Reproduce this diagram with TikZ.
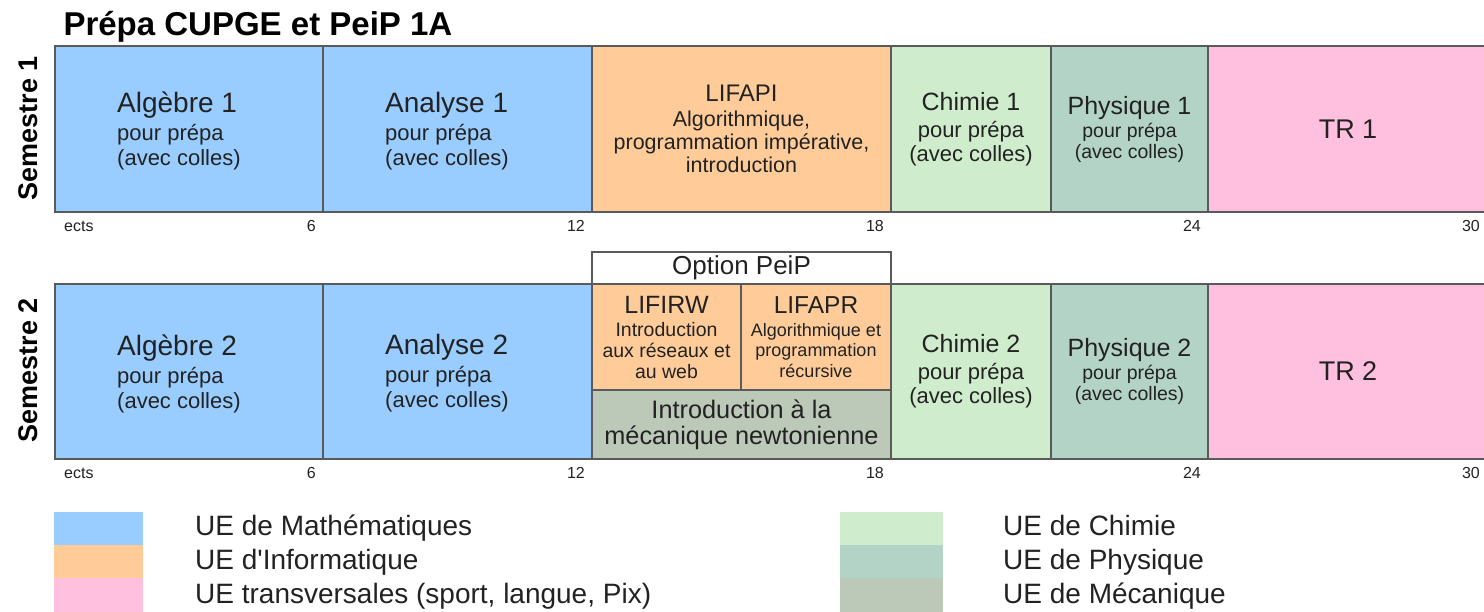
\documentclass[tikz,border=0pt]{standalone}
\usepackage{fontspec}
\setmainfont{Liberation Sans}

\definecolor{maths}{HTML}{99CCFF}
\definecolor{info}{HTML}{FFCC99}
\definecolor{transv}{HTML}{FFBFDF}
\definecolor{chimie}{HTML}{CFEDCC}
\definecolor{physique}{HTML}{B4D3C7}
\definecolor{meca}{HTML}{BCC8B8}
\definecolor{bord}{HTML}{5A5A5A}
\definecolor{texte}{HTML}{222222}

\newcommand{\fs}[2]{\fontsize{#1}{#2}\selectfont}

\tikzset{
  ue/.style={draw=bord, line width=2pt, anchor=north west, inner sep=0pt,
    align=center, text=texte},
  uetxt/.style={anchor=west, align=left, inner sep=0pt, text=texte,
    font=\fs{22}{25}},
  ects/.style={inner sep=0pt, text=texte, font=\fs{16}{18}},
  swatch/.style={anchor=north west, inner sep=0pt, minimum width=89pt,
    minimum height=34pt},
  legende/.style={anchor=base west, inner sep=0pt, text=texte, font=\fs{28}{30}}
}

\begin{document}
\begin{tikzpicture}[x=1pt, y=-1pt]
    \useasboundingbox (0,0) rectangle (1484,611);
    % 标题
    \node[anchor=base west, font=\fs{33}{36}\bfseries] (titre) at (60,35)
      {Prépa CUPGE et PeiP 1A};
    \node[rotate=90, anchor=base, font=\fs{27}{30}\bfseries] (sem1) at (37,128) {Semestre 1};
    \node[rotate=90, anchor=base, font=\fs{27}{30}\bfseries] (sem2) at (37,370) {Semestre 2};

    % 第一学期
    \node[ue, fill=maths, minimum width=268pt, minimum height=166pt] (alg1) at (54,45) {};
    \node[ue, fill=maths, minimum width=269pt, minimum height=166pt] (ana1) at (322,45) {};
    \node[ue, fill=info, minimum width=299pt, minimum height=166pt, font=\fs{21.5}{23}]
      (lifapi) at (591,45)
      {{\fs{24}{26}LIFAPI}\\[2pt] Algorithmique,\\ programmation impérative,\\ introduction};
    \node[ue, fill=chimie, minimum width=160pt, minimum height=166pt, font=\fs{22}{24}]
      (chim1) at (890,45) {{\fs{25}{27}Chimie 1}\\[3pt] pour prépa\\ (avec colles)};
    \node[ue, fill=physique, minimum width=157pt, minimum height=166pt, font=\fs{19.5}{21}]
      (phys1) at (1050,45) {{\fs{25}{27}Physique 1}\\[2pt] pour prépa\\ (avec colles)};
    \node[ue, fill=transv, minimum width=280pt, minimum height=166pt, font=\fs{27}{30}]
      (tr1) at (1207,45) {TR 1};
    \node[uetxt] (alg1txt) at ([xshift=63pt,yshift=-2pt]alg1.west)
      {{\fs{28}{30}Algèbre 1}\\[3pt] pour prépa\\ (avec colles)};
    \node[uetxt] (ana1txt) at ([xshift=63pt,yshift=-2pt]ana1.west)
      {{\fs{28}{30}Analyse 1}\\[3pt] pour prépa\\ (avec colles)};

    % 第二学期
    \node[ue, fill=white, minimum width=299pt, minimum height=32pt, font=\fs{26}{28}]
      (option) at (591,251) {Option PeiP};
    \node[ue, fill=maths, minimum width=268pt, minimum height=175pt] (alg2) at (54,283) {};
    \node[ue, fill=maths, minimum width=269pt, minimum height=175pt] (ana2) at (322,283) {};
    \node[ue, fill=info, minimum width=149pt, minimum height=106pt, font=\fs{19.5}{21}]
      (lifirw) at (591,283)
      {{\fs{25}{27}LIFIRW}\\[2pt] Introduction\\ aux réseaux et\\ au web};
    \node[ue, fill=info, minimum width=150pt, minimum height=106pt, font=\fs{18}{20.5}]
      (lifapr) at (740,283)
      {{\fs{24.5}{27}LIFAPR}\\[2pt] Algorithmique et\\ programmation\\ récursive};
    \node[ue, fill=meca, minimum width=299pt, minimum height=69pt, font=\fs{25.3}{26}]
      (meca) at (591,389) {Introduction à la\\ mécanique newtonienne};
    \node[ue, fill=chimie, minimum width=160pt, minimum height=175pt, font=\fs{22}{24}]
      (chim2) at (890,283) {{\fs{25}{27}Chimie 2}\\[3pt] pour prépa\\ (avec colles)};
    \node[ue, fill=physique, minimum width=157pt, minimum height=175pt, font=\fs{19.5}{21}]
      (phys2) at (1050,283) {{\fs{25}{27}Physique 2}\\[2pt] pour prépa\\ (avec colles)};
    \node[ue, fill=transv, minimum width=280pt, minimum height=175pt, font=\fs{27}{30}]
      (tr2) at (1207,283) {TR 2};
    \node[uetxt] (alg2txt) at ([xshift=63pt,yshift=-2pt]alg2.west)
      {{\fs{28}{30}Algèbre 2}\\[3pt] pour prépa\\ (avec colles)};
    \node[uetxt] (ana2txt) at ([xshift=63pt,yshift=-2pt]ana2.west)
      {{\fs{28}{30}Analyse 2}\\[3pt] pour prépa\\ (avec colles)};

    % 学分刻度
    \foreach \y/\r in {231/1, 478/2} {
      \node[ects, anchor=base west] (ects\r) at (64,\y) {ects};
      \foreach \x/\n in {316/6, 585/12, 884/18, 1201/24, 1480/30}
        \node[ects, anchor=base east] (n\r-\n) at (\x,\y) {\n};
    }

    % 图例
    \foreach \c/\t/\y/\b in {maths/UE de Mathématiques/512/535,
        info/UE d\textquotesingle Informatique/545/569,
        transv/{UE transversales (sport, langue, Pix)}/578/603} {
      \node[swatch, fill=\c] (sw-\c) at (54,\y) {};
      \node[legende] (lg-\c) at (195,\b) {\t};
    }
    \foreach \c/\t/\y/\b in {chimie/UE de Chimie/512/535,
        physique/UE de Physique/545/569, meca/UE de Mécanique/578/603} {
      \node[swatch, minimum width=103pt, fill=\c] (sw-\c) at (840,\y) {};
      \node[legende] (lg-\c) at (1003,\b) {\t};
    }
\end{tikzpicture}
\end{document}
